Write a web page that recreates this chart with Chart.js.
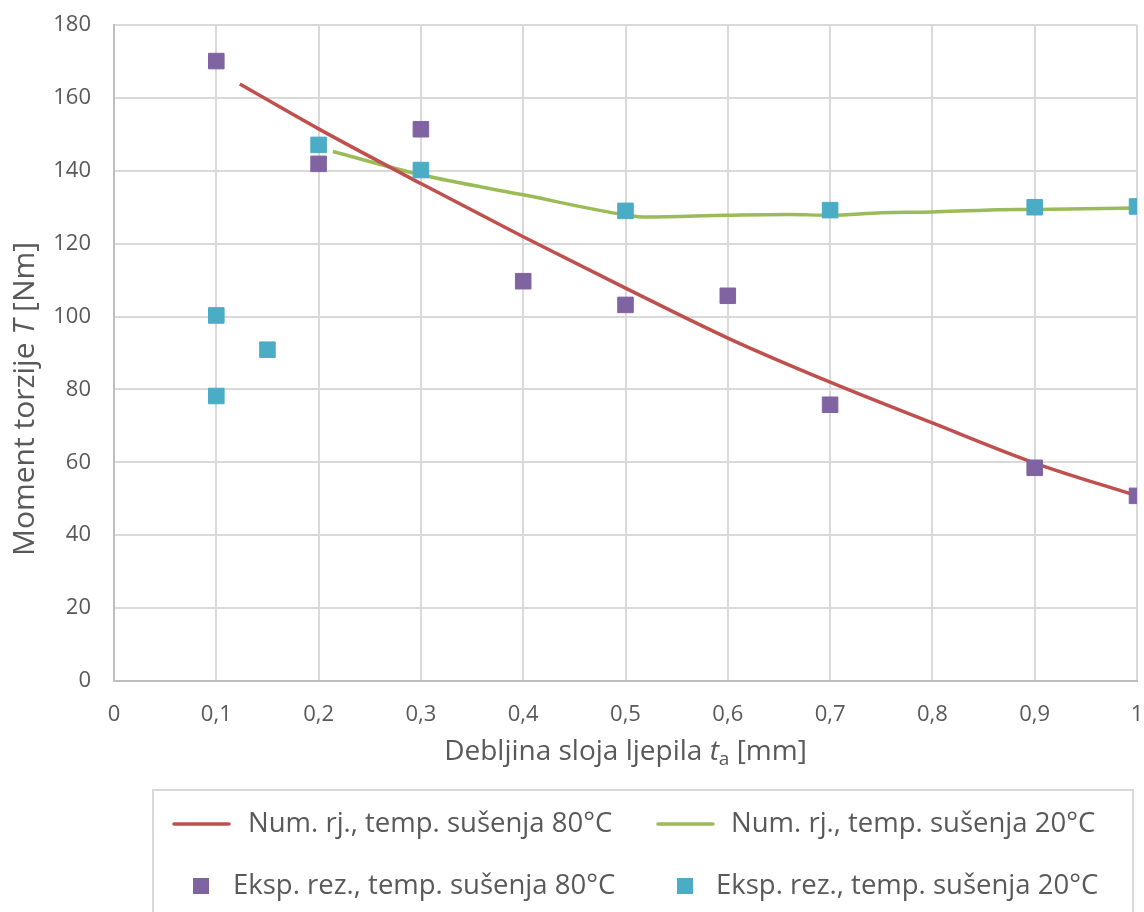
<!DOCTYPE html>
<html>
<head>
<meta charset="utf-8">
<script src="https://cdn.jsdelivr.net/npm/chart.js@4/dist/chart.umd.min.js"></script>
<style>
  html, body { margin: 0; padding: 0; background: #fff; overflow: hidden; }
  #wrap { width: 1144px; height: 912px; overflow: hidden; }
</style>
</head>
<body>
<div id="wrap"><canvas id="myChart" width="1149" height="912"></canvas></div>
<script>
// Numerical solution, drying temperature 80°C (x = adhesive thickness [mm], y = torque [Nm])
var num80X = [0.123, 0.2, 0.3, 0.4, 0.5, 0.6, 0.7, 0.8, 0.9, 1.0];
var num80Y = [163.8, 151.5, 136.5, 121.9, 107.8, 94.1, 82.0, 70.8, 59.8, 50.8];

// Numerical solution, drying temperature 20°C
var num20X = [0.214, 0.3, 0.4, 0.5, 0.52, 0.6, 0.66, 0.7, 0.75, 0.8, 0.85, 0.9, 1.0];
var num20Y = [145.3, 138.9, 133.4, 127.9, 127.3, 127.8, 128.0, 127.8, 128.5, 128.7, 129.2, 129.4, 129.8];

// Experimental results, 80°C
var exp80X = [0.1, 0.2, 0.3, 0.4, 0.5, 0.6, 0.7, 0.9, 1.0];
var exp80Y = [170.1, 141.9, 151.4, 109.7, 103.2, 105.7, 75.8, 58.5, 50.8];

// Experimental results, 20°C
var exp20X = [0.1, 0.1, 0.15, 0.2, 0.3, 0.5, 0.7, 0.9, 1.0];
var exp20Y = [100.3, 78.2, 90.9, 147.1, 140.2, 129.0, 129.2, 130.0, 130.2];

var xTicks = [0, 0.1, 0.2, 0.3, 0.4, 0.5, 0.6, 0.7, 0.8, 0.9, 1];
var yTicks = [0, 20, 40, 60, 80, 100, 120, 140, 160, 180];

var seriesNames = [
  'Num. rj., temp. sušenja 80°C',
  'Num. rj., temp. sušenja 20°C',
  'Eksp. rez., temp. sušenja 80°C',
  'Eksp. rez., temp. sušenja 20°C'
];
var colors = ['#c0504d', '#9bbb59', '#8064a2', '#4bacc6'];

function pts(xs, ys) {
  return xs.map(function (x, i) { return { x: x, y: ys[i] }; });
}

var FONT = "'Open Sans', sans-serif";
var TXT = '#595959';

// draw a row of text pieces with different styles, centered on (cx, cy)
function drawRuns(ctx, runs, cx, cy) {
  var total = 0;
  runs.forEach(function (r) {
    ctx.font = r.font;
    r.w = ctx.measureText(r.text).width;
    total += r.w;
  });
  var x = cx - total / 2;
  ctx.textBaseline = 'middle';
  ctx.textAlign = 'left';
  runs.forEach(function (r) {
    ctx.font = r.font;
    ctx.fillText(r.text, x, cy + (r.dy || 0));
    x += r.w;
  });
}

var extras = {
  id: 'extras',
  afterDraw: function (chart) {
    var ctx = chart.ctx;
    var area = chart.chartArea;
    ctx.save();
    ctx.fillStyle = TXT;

    // x axis title
    drawRuns(ctx, [
      { text: 'Debljina sloja ljepila ', font: '28px ' + FONT },
      { text: 't', font: 'italic 28px ' + FONT },
      { text: 'a', font: '19px ' + FONT, dy: 8 },
      { text: ' [mm]', font: '28px ' + FONT }
    ], (area.left + area.right) / 2, 752);

    // y axis title
    ctx.save();
    ctx.translate(25, 399);
    ctx.rotate(-Math.PI / 2);
    drawRuns(ctx, [
      { text: 'Moment torzije ', font: '30px ' + FONT },
      { text: 'T', font: 'italic 30px ' + FONT },
      { text: ' [Nm]', font: '30px ' + FONT }
    ], 0, 0);
    ctx.restore();

    // legend box
    ctx.strokeStyle = '#d9d9d9';
    ctx.lineWidth = 2;
    ctx.strokeRect(153, 790, 980, 140);

    var items = [
      { x: 174, y: 824, type: 'line', tx: 248 },
      { x: 658, y: 824, type: 'line', tx: 731 },
      { x: 201, y: 886, type: 'rect', tx: 233 },
      { x: 685, y: 886, type: 'rect', tx: 716 }
    ];
    ctx.font = '27.5px ' + FONT;
    ctx.textBaseline = 'middle';
    ctx.textAlign = 'left';
    items.forEach(function (it, i) {
      ctx.fillStyle = colors[i];
      ctx.strokeStyle = colors[i];
      if (it.type === 'line') {
        ctx.lineWidth = 3.5;
        ctx.lineCap = 'round';
        ctx.beginPath();
        ctx.moveTo(it.x, it.y);
        ctx.lineTo(it.x + 55, it.y);
        ctx.stroke();
      } else {
        ctx.fillRect(it.x - 8, it.y - 8, 16, 16);
      }
      ctx.fillStyle = TXT;
      ctx.fillText(seriesNames[i], it.tx, it.y);
    });
    ctx.restore();
  }
};

var ctx = document.getElementById('myChart').getContext('2d');

var lineStyle = {
  showLine: true,
  pointRadius: 0,
  borderWidth: 3.5,
  cubicInterpolationMode: 'monotone',
  order: 2
};
var markStyle = {
  showLine: false,
  pointStyle: 'rect',
  pointRadius: 11,
  pointHoverRadius: 11,
  borderWidth: 1,
  order: 1
};

var chart = new Chart(ctx, {
  type: 'scatter',
  data: {
    datasets: [
      Object.assign({ label: seriesNames[0], data: pts(num80X, num80Y), borderColor: colors[0], backgroundColor: colors[0] }, lineStyle),
      Object.assign({ label: seriesNames[1], data: pts(num20X, num20Y), borderColor: colors[1], backgroundColor: colors[1] }, lineStyle),
      Object.assign({ label: seriesNames[2], data: pts(exp80X, exp80Y), borderColor: colors[2], backgroundColor: colors[2] }, markStyle),
      Object.assign({ label: seriesNames[3], data: pts(exp20X, exp20Y), borderColor: colors[3], backgroundColor: colors[3] }, markStyle)
    ]
  },
  options: {
    responsive: false,
    animation: false,
    layout: { padding: { left: 0, top: 25, right: 0, bottom: 0 } },
    plugins: {
      legend: { display: false },
      tooltip: { enabled: false }
    },
    scales: {
      x: {
        type: 'linear',
        min: 0,
        max: 1,
        afterFit: function (s) { s.height = 231; s.paddingLeft = 0; s.paddingRight = 0; },
        afterBuildTicks: function (s) { s.ticks = xTicks.map(function (v) { return { value: v }; }); },
        ticks: {
          padding: 21,
          color: TXT,
          font: { family: FONT, size: 22 },
          callback: function (v) { return String(Math.round(v * 10) / 10).replace('.', ','); }
        },
        grid: { color: '#d9d9d9', lineWidth: 2, drawTicks: false },
        border: { color: '#bfbfbf', width: 2 }
      },
      y: {
        min: 0,
        max: 180,
        afterFit: function (s) { s.width = 114; s.paddingTop = 0; s.paddingBottom = 0; },
        afterBuildTicks: function (s) { s.ticks = yTicks.map(function (v) { return { value: v }; }); },
        ticks: {
          padding: 23,
          color: TXT,
          font: { family: FONT, size: 22 }
        },
        grid: { color: '#d9d9d9', lineWidth: 2, drawTicks: false },
        border: { color: '#bfbfbf', width: 2 }
      }
    }
  },
  plugins: [extras]
});
</script>
</body>
</html>
